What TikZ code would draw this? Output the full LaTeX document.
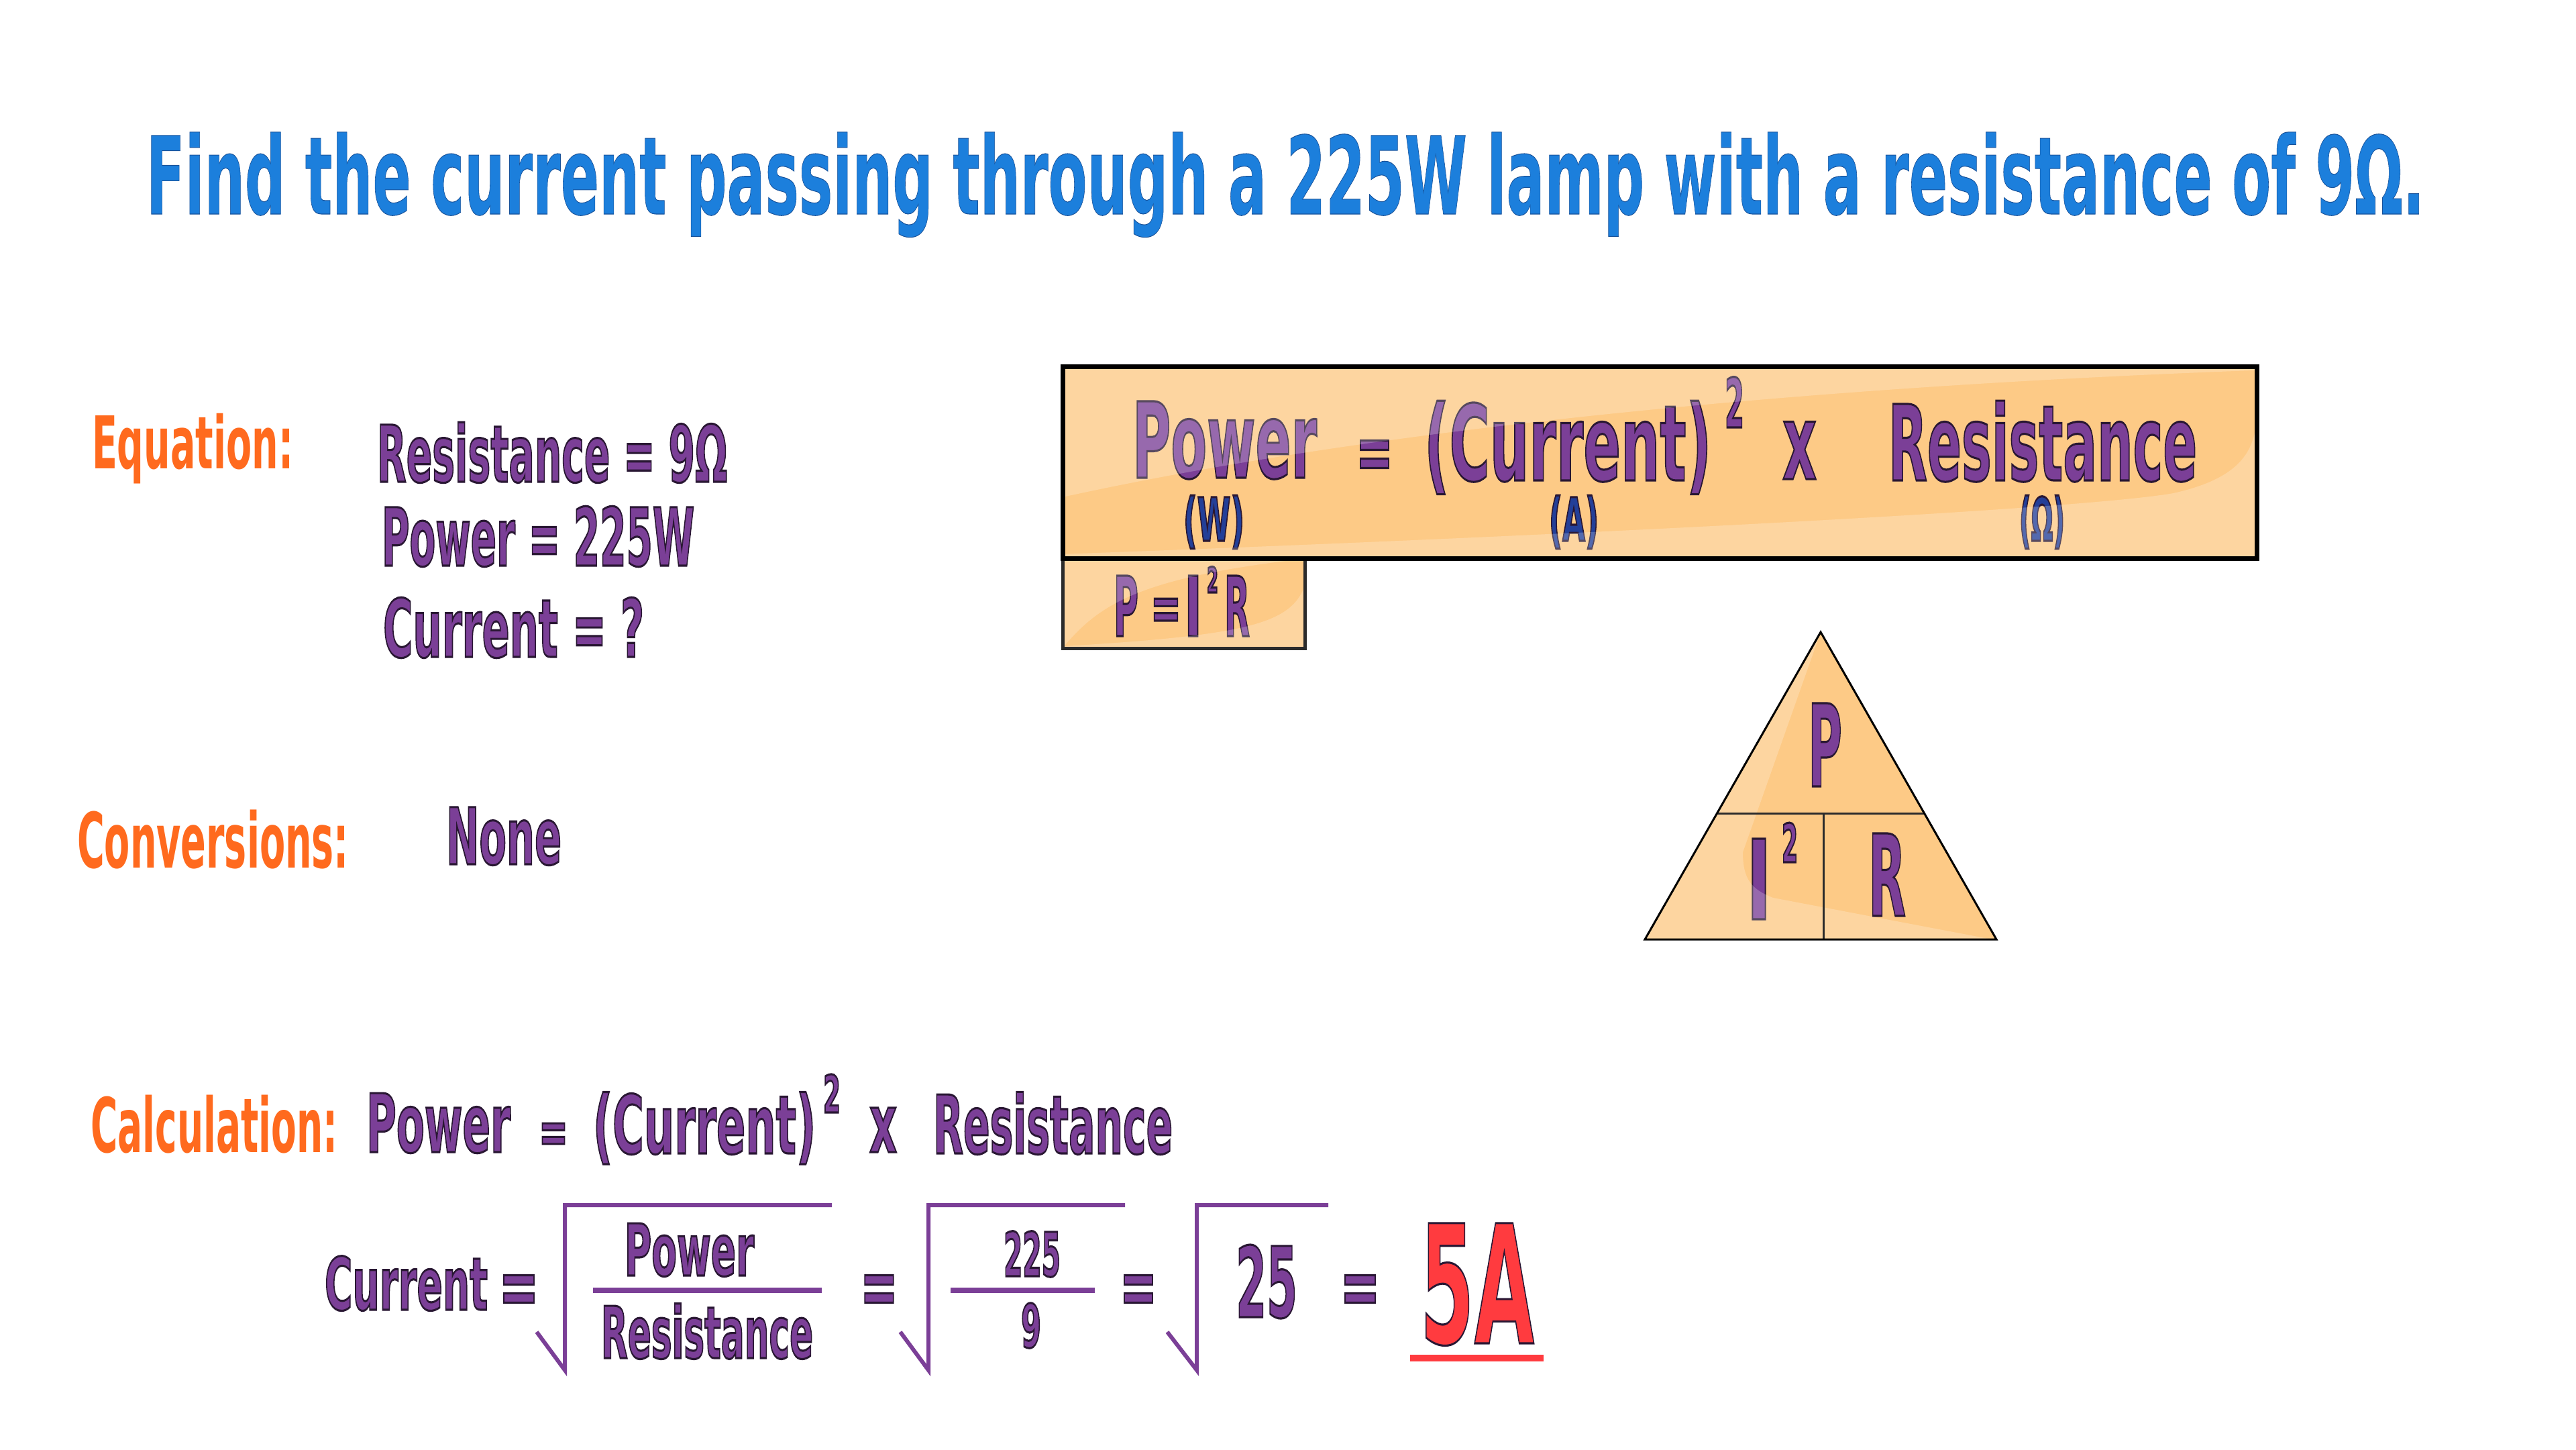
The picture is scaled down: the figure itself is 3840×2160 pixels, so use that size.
\documentclass[tikz,border=0pt]{standalone}
\usepackage{fontspec}
\usepackage{graphicx}
\setmainfont{DejaVu Sans}
\definecolor{titleblue}{HTML}{1C7FDC}
\definecolor{orangeT}{HTML}{FF6A1E}
\definecolor{purp}{HTML}{7B3F97}
\definecolor{unitblue}{HTML}{233F98}
\definecolor{redA}{HTML}{FF3B3F}
\definecolor{boxdark}{HTML}{FDCA86}
\definecolor{darkline}{HTML}{2B2B2B}
\newcommand\fitw[2]{\resizebox{#1}{\height}{#2}}
\newcommand\fs[1]{\fontsize{#1}{#1}\selectfont\bfseries}
% thin dark outline round the glyphs (fill + stroke text mode)
\newcommand\outl[2]{\special{pdf:literal direct 2 Tr #1 w #2 RG}}
\newcommand\outloff{\special{pdf:literal direct 0 Tr}}
\newcommand\ow[2]{\fitw{#1}{\outl{0.9}{0.16 0.09 0.2}#2\outloff}}
\newcommand\tw[2]{\fitw{#1}{\outl{0.3}{0.1 0.32 0.6}#2\outloff}}
\tikzset{
  txt/.style={inner sep=0pt, outer sep=0pt, anchor=base west},
  ptxt/.style={txt, text=purp},
  otxt/.style={txt, text=orangeT},
  utxt/.style={txt, text=unitblue},
  rootline/.style={draw=purp, line width=0.06cm, line join=miter, line cap=butt},
  fracbar/.style={draw=purp, line width=0.08cm},
  gloss/.style={fill=white, fill opacity=0.22},
}
\begin{document}
\begin{tikzpicture}[x=0.01cm, y=-0.01cm]
\useasboundingbox (0,0) rectangle (3840,2160);
\fill[white] (0,0) rectangle (3840,2160);

% title
\node[txt, text=titleblue] (title) at (218,319) {\tw{33.94cm}{\fs{45.7pt}Find the current passing through a 225W lamp with a resistance of 9Ω.}};

% left column
\node[otxt] (eqlabel) at (137,698) {\fitw{3.00cm}{\fs{30.8pt}Equation:}};
\node[ptxt] (givenR) at (562,718) {\ow{5.22cm}{\fs{33.2pt}Resistance = 9Ω}};
\node[ptxt] (givenP) at (569,843) {\ow{4.66cm}{\fs{34pt}Power = 225W}};
\node[ptxt] (givenI) at (571,979) {\ow{3.89cm}{\fs{34pt}Current = ?}};
\node[otxt] (convlabel) at (115,1293) {\fitw{4.05cm}{\fs{32.4pt}Conversions:}};
\node[ptxt] (none) at (665,1288) {\ow{1.72cm}{\fs{33.2pt}None}};

% main equation box
\node[fill=boxdark, inner sep=0pt, minimum width=17.78cm, minimum height=2.84cm, anchor=north west] (eqbox) at (1584.5,546.5) {};
\node[ptxt] (bPower) at (1688,712) {\ow{2.75cm}{\fs{44.5pt}Power}};
\node[ptxt] (bEq) at (2021,715) {\ow{0.56cm}{\fs{34.5pt}=}};
\node[ptxt] (bCurrent) at (2123,716) {\ow{4.28cm}{\fs{44.5pt}(Current)}};
\node[ptxt] (bSq) at (2571,637) {\ow{0.29cm}{\fs{28.9pt}2}};
\node[ptxt] (bX) at (2657,714) {\ow{0.51cm}{\fs{44.5pt}x}};
\node[ptxt] (bRes) at (2815,716) {\ow{4.60cm}{\fs{44.5pt}Resistance}};
\node[utxt] (uW) at (1764,806) {\ow{0.91cm}{\fs{25.4pt}(W)}};
\node[utxt] (uA) at (2309,806) {\ow{0.74cm}{\fs{25.4pt}(A)}};
\node[utxt] (uO) at (3010,806) {\ow{0.68cm}{\fs{25.4pt}(Ω)}};
\begin{scope}
  \clip (1584.5,546.5) rectangle (3362.5,830.5);
  \fill[gloss] (1580,540) -- (3370,540) -- (3370,552) -- (3358,552)
     .. controls (2600,580) and (2000,650) .. (1588,740) -- (1580,742) -- cycle;
  \fill[gloss] (1580,826) .. controls (2300,800) and (3100,760) .. (3240,735)
     .. controls (3330,715) and (3355,680) .. (3362,640) -- (3370,640) -- (3370,840) -- (1580,840) -- cycle;
\end{scope}

% small box P = I^2 R
\node[fill=boxdark, inner sep=0pt, minimum width=3.60cm, minimum height=1.34cm, anchor=north west] (pirbox) at (1584,831) {};
\node[ptxt] (sP) at (1660,948) {\ow{0.37cm}{\fs{35.1pt}P}};
\node[ptxt] (sEq) at (1715,939) {\ow{0.46cm}{\fs{27.6pt}=}};
\node[ptxt] (sI) at (1765,948) {\ow{0.27cm}{\fs{35.1pt}I}};
\node[ptxt] (sSq) at (1799,883) {\ow{0.17cm}{\fs{14.8pt}2}};
\node[ptxt] (sR) at (1825,948) {\ow{0.38cm}{\fs{35.1pt}R}};
\begin{scope}
  \clip (1584,831) rectangle (1944,965);
  \fill[gloss] (1580,825) -- (1950,825) -- (1950,832)
     .. controls (1700,860) and (1640,900) .. (1587,962) -- (1580,970) -- cycle;
  \fill[gloss] (1950,855) .. controls (1935,925) and (1890,945) .. (1587,963) -- (1580,970) -- (1950,970) -- cycle;
\end{scope}
\draw[draw=darkline, line width=0.05cm] (pirbox.north west) rectangle (pirbox.south east);
\draw[draw=black, line width=0.07cm] (eqbox.north west) rectangle (eqbox.south east);

% triangle
\coordinate (tA) at (2714,942);
\coordinate (tL) at (2452,1400);
\coordinate (tR) at (2976,1400);
\coordinate (mL) at (2559.5,1212);
\coordinate (mR) at (2868.5,1212);
\coordinate (dT) at (2718,1212);
\coordinate (dB) at (2718,1400);
\fill[boxdark] (tA) -- (tL) -- (tR) -- cycle;
\node[ptxt] (tP) at (2695,1172) {\ow{0.51cm}{\fs{48.4pt}P}};
\node[ptxt] (tI) at (2603,1370) {\ow{0.38cm}{\fs{46.8pt}I}};
\node[ptxt] (tSq) at (2656,1285) {\ow{0.24cm}{\fs{22.6pt}2}};
\node[ptxt] (tRr) at (2785,1365) {\ow{0.56cm}{\fs{48pt}R}};
\begin{scope}
  \clip (tA) -- (tL) -- (tR) -- cycle;
  \fill[gloss] (2714,942) -- (2598,1270) .. controls (2598,1310) and (2610,1325) .. (2643,1338)
     -- (2980,1402) -- (2440,1410) -- cycle;
\end{scope}
\draw[draw=darkline, line width=0.03cm] (mL) -- (mR);
\draw[draw=darkline, line width=0.03cm] (dT) -- (dB);
\draw[draw=black, line width=0.03cm, line join=miter] (tA) -- (tL) -- (tR) -- cycle;

% calculation line
\node[otxt] (calclabel) at (135,1717) {\fitw{3.68cm}{\fs{32pt}Calculation:}};
\node[ptxt] (cPower) at (546,1717) {\ow{2.15cm}{\fs{34.3pt}Power}};
\node[ptxt] (cEq) at (803,1718) {\ow{0.44cm}{\fs{25.9pt}=}};
\node[ptxt] (cCurrent) at (884,1719) {\ow{3.32cm}{\fs{34.3pt}(Current)}};
\node[ptxt] (cSq) at (1227,1658) {\ow{0.26cm}{\fs{21.9pt}2}};
\node[ptxt] (cX) at (1296,1717) {\ow{0.41cm}{\fs{34.3pt}x}};
\node[ptxt] (cRes) at (1391,1719) {\ow{3.57cm}{\fs{34.3pt}Resistance}};

% bottom line
\node[ptxt] (fCurrent) at (484,1952) {\ow{2.43cm}{\fs{30.8pt}Current}};
\node[ptxt] (fEq1) at (743.5,1959) {\ow{0.60cm}{\fs{34.5pt}=}};
\draw[rootline] (800,1985) -- (842,2042) -- (842,1796) -- (1240,1796);
\draw[fracbar] (884,1923) -- (1225,1923);
\node[ptxt] (fPower) at (931,1901) {\ow{1.93cm}{\fs{30.4pt}Power}};
\node[ptxt] (fRes) at (896,2024) {\ow{3.16cm}{\fs{30.4pt}Resistance}};
\node[ptxt] (fEq2) at (1282,1959) {\ow{0.57cm}{\fs{34.5pt}=}};
\draw[rootline] (1342,1985) -- (1384,2042) -- (1384,1796) -- (1677,1796);
\draw[fracbar] (1417,1923) -- (1632,1923);
\node[ptxt] (f225) at (1496,1902) {\ow{0.85cm}{\fs{25.8pt}225}};
\node[ptxt] (f9) at (1522,2008) {\ow{0.30cm}{\fs{25.4pt}9}};
\node[ptxt] (fEq3) at (1669,1959) {\ow{0.56cm}{\fs{34.5pt}=}};
\draw[rootline] (1740,1985) -- (1784,2042) -- (1784,1796) -- (1980,1796);
\node[ptxt] (f25) at (1842,1963) {\ow{0.92cm}{\fs{41.4pt}25}};
\node[ptxt] (fEq4) at (1997.5,1959) {\ow{0.60cm}{\fs{34.5pt}=}};
\node[txt, text=redA] (answer) at (2117,2002) {\ow{1.70cm}{\fs{69.9pt}5A}};
\draw[draw=redA, line width=0.10cm] (2102,2024) -- (2301,2024);
\end{tikzpicture}
\end{document}
